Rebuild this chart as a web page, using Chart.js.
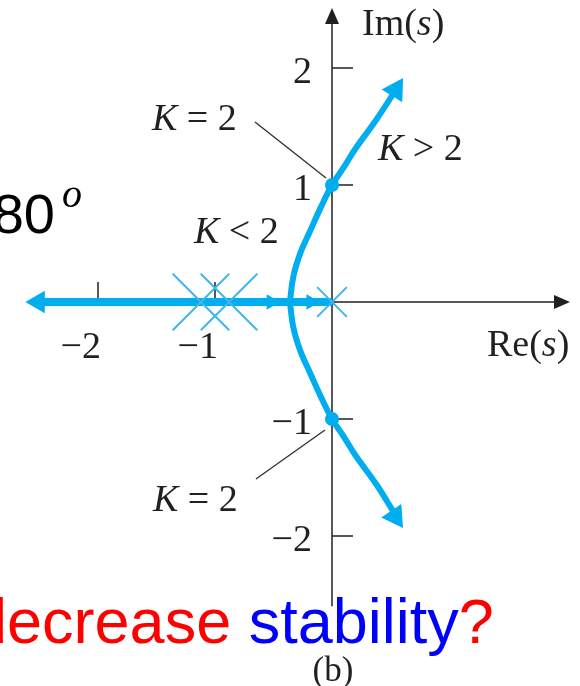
<!DOCTYPE html>
<html>
<head>
<meta charset="utf-8">
<script src="https://cdn.jsdelivr.net/npm/chart.js@4.4.1/dist/chart.umd.min.js"></script>
<style>
  html, body { margin: 0; padding: 0; background: #fff; }
  #locus { display: block; }
</style>
</head>
<body>
<canvas id="locus" width="580" height="686"></canvas>
<script>
// root locus (real part, imaginary part)
const upperRe = [-0.36, -0.33, -0.27, -0.19, -0.10, 0.00, 0.10, 0.20, 0.38, 0.53];
const upperIm = [0.00, 0.22, 0.42, 0.60, 0.80, 1.00, 1.15, 1.31, 1.56, 1.79];
const lowerRe = [-0.36, -0.33, -0.27, -0.19, -0.10, 0.00, 0.10, 0.20, 0.38, 0.53];
const lowerIm = [0.00, -0.22, -0.42, -0.60, -0.80, -1.00, -1.15, -1.31, -1.56, -1.80];
const realAxisLocus = [-2.50, 0.0];

const poleRe = [0.0, -1.12, -0.88];
const crossingRe = [0, 0];
const crossingIm = [1, -1];

// arrow heads along the locus
const arrowRe = [0.544, 0.540, -2.51, -0.52, -0.18];
const arrowIm = [1.813, -1.833, 0, 0, 0];
const arrowDir = [32, 146, 270, 90, 90];

const xTicks = [-2, -1];
const yTicks = [2, 1, -1, -2];

const blue = "#00aeef";
const crossBlue = "#3fb6ec";
const ink = "#231f20";

function pts(xs, ys) {
  return xs.map(function (x, i) { return { x: x, y: ys[i] }; });
}

const axisLines = {
  id: "axisLines",
  beforeDatasetsDraw: function (chart) {
    const ctx = chart.ctx;
    const sx = chart.scales.x;
    const sy = chart.scales.y;
    const x0 = sx.getPixelForValue(0);
    const y0 = sy.getPixelForValue(0);
    ctx.save();
    ctx.strokeStyle = ink;
    ctx.fillStyle = ink;
    ctx.lineWidth = 1.5;
    // real axis
    ctx.beginPath();
    ctx.moveTo(sx.getPixelForValue(-2.5), y0);
    ctx.lineTo(558, y0);
    ctx.stroke();
    ctx.beginPath();
    ctx.moveTo(570, y0);
    ctx.lineTo(554, y0 - 7);
    ctx.lineTo(554, y0 + 7);
    ctx.closePath();
    ctx.fill();
    // imaginary axis
    ctx.beginPath();
    ctx.moveTo(x0, sy.getPixelForValue(-2.6));
    ctx.lineTo(x0, 20);
    ctx.stroke();
    ctx.beginPath();
    ctx.moveTo(x0, 8);
    ctx.lineTo(x0 - 7, 24);
    ctx.lineTo(x0 + 7, 24);
    ctx.closePath();
    ctx.fill();
    // ticks
    ctx.lineWidth = 1.5;
    xTicks.forEach(function (t) {
      const px = sx.getPixelForValue(t);
      ctx.beginPath();
      ctx.moveTo(px, y0);
      ctx.lineTo(px, y0 - 20);
      ctx.stroke();
    });
    yTicks.forEach(function (t) {
      const py = sy.getPixelForValue(t);
      ctx.beginPath();
      ctx.moveTo(x0, py);
      ctx.lineTo(x0 + 21, py);
      ctx.stroke();
    });
    ctx.restore();
  },
  afterDatasetsDraw: function (chart) {
    const ctx = chart.ctx;
    const sx = chart.scales.x;
    const sy = chart.scales.y;
    const x0 = sx.getPixelForValue(0);
    const y0 = sy.getPixelForValue(0);
    const serif = "38px 'Liberation Serif'";
    const serifIt = "italic 38px 'Liberation Serif'";
    ctx.save();
    ctx.fillStyle = ink;
    ctx.textBaseline = "alphabetic";

    // tick labels
    ctx.font = serif;
    ctx.textAlign = "right";
    xTicks.forEach(function (t) {
      ctx.fillText("\u2212" + Math.abs(t), sx.getPixelForValue(t) + 3, y0 + 56);
    });
    yTicks.forEach(function (t) {
      const s = t < 0 ? "\u2212" + Math.abs(t) : String(t);
      ctx.fillText(s, x0 - 20, sy.getPixelForValue(t) + 15);
    });

    // axis names
    function mixed(parts, x, y) {
      let cx = x;
      parts.forEach(function (p) {
        ctx.font = p[1] ? serifIt : serif;
        ctx.textAlign = "left";
        ctx.fillText(p[0], cx, y);
        cx += ctx.measureText(p[0]).width;
      });
    }
    mixed([["Im(", 0], ["s", 1], [")", 0]], 362, 35);
    mixed([["Re(", 0], ["s", 1], [")", 0]], 487, 356);
    mixed([["K", 1], [" = 2", 0]], 152, 130);
    mixed([["K", 1], [" > 2", 0]], 378, 160);
    mixed([["K", 1], [" < 2", 0]], 194, 243);
    mixed([["K", 1], [" = 2", 0]], 153, 511);

    ctx.font = "35px 'Liberation Serif'";
    ctx.textAlign = "center";
    ctx.fillText("(b)", 333, 681);

    // slide text around the figure
    ctx.font = "56px 'Liberation Sans'";
    ctx.textAlign = "right";
    ctx.fillStyle = "#000";
    ctx.fillText("180", 55, 233);
    ctx.font = "italic 40px 'Liberation Serif'";
    ctx.textAlign = "left";
    ctx.fillText("o", 62, 207);

    ctx.font = "63px 'Liberation Sans'";
    ctx.fillStyle = "#ff0000";
    ctx.fillText("decrease ", -28, 643);
    const w = ctx.measureText("decrease ").width;
    ctx.fillStyle = "#0000ff";
    ctx.fillText("stability", -28 + w, 643);
    const w2 = ctx.measureText("stability").width;
    ctx.fillStyle = "#ff0000";
    ctx.fillText("?", -28 + w + w2, 643);
    ctx.restore();
  }
};

new Chart(document.getElementById("locus"), {
  type: "scatter",
  data: {
    datasets: [
      {
        label: "arrows",
        data: pts(arrowRe, arrowIm),
        pointStyle: "triangle",
        rotation: arrowDir,
        pointRadius: [14, 14, 13, 9, 9],
        backgroundColor: blue,
        borderColor: blue,
        borderWidth: 0,
        showLine: false,
        order: 1,
      },
      {
        label: "K = 2",
        data: pts(crossingRe, crossingIm),
        pointStyle: "circle",
        pointRadius: 7,
        backgroundColor: blue,
        borderWidth: 0,
        showLine: false,
        order: 2,
      },
      {
        label: "upper",
        data: pts(upperRe, upperIm),
        showLine: true,
        borderColor: blue,
        borderWidth: 6,
        pointRadius: 0,
        tension: 0.4,
        fill: false,
        order: 3,
      },
      {
        label: "lower",
        data: pts(lowerRe, lowerIm),
        showLine: true,
        borderColor: blue,
        borderWidth: 6,
        pointRadius: 0,
        tension: 0.4,
        fill: false,
        order: 3,
      },
      {
        label: "real",
        data: realAxisLocus.map(function (x) { return { x: x, y: 0 }; }),
        showLine: true,
        borderColor: blue,
        borderWidth: 8,
        pointRadius: 0,
        order: 4,
      },
      {
        label: "poles",
        data: poleRe.map(function (x) { return { x: x, y: 0 }; }),
        pointStyle: "crossRot",
        pointRadius: [21, 40, 40],
        borderColor: crossBlue,
        borderWidth: 2,
        showLine: false,
        order: 0,
      },
      {
        label: "leader up",
        data: [{ x: -0.658, y: 1.538 }, { x: -0.051, y: 1.06 }],
        showLine: true,
        borderColor: "#333",
        borderWidth: 1.4,
        pointRadius: 0,
        order: 5,
      },
      {
        label: "leader down",
        data: [{ x: -0.65, y: -1.513 }, { x: -0.06, y: -1.094 }],
        showLine: true,
        borderColor: "#333",
        borderWidth: 1.4,
        pointRadius: 0,
        order: 5,
      },
    ],
  },
  options: {
    responsive: false,
    animation: false,
    devicePixelRatio: 1,
    layout: { padding: 0, autoPadding: false },
    plugins: {
      legend: { display: false },
      tooltip: { enabled: false },
    },
    scales: {
      x: { type: "linear", min: -332 / 117, max: 248 / 117, display: false },
      y: { type: "linear", min: -384 / 117, max: 302 / 117, display: false },
    },
  },
  plugins: [axisLines],
});
</script>
</body>
</html>
